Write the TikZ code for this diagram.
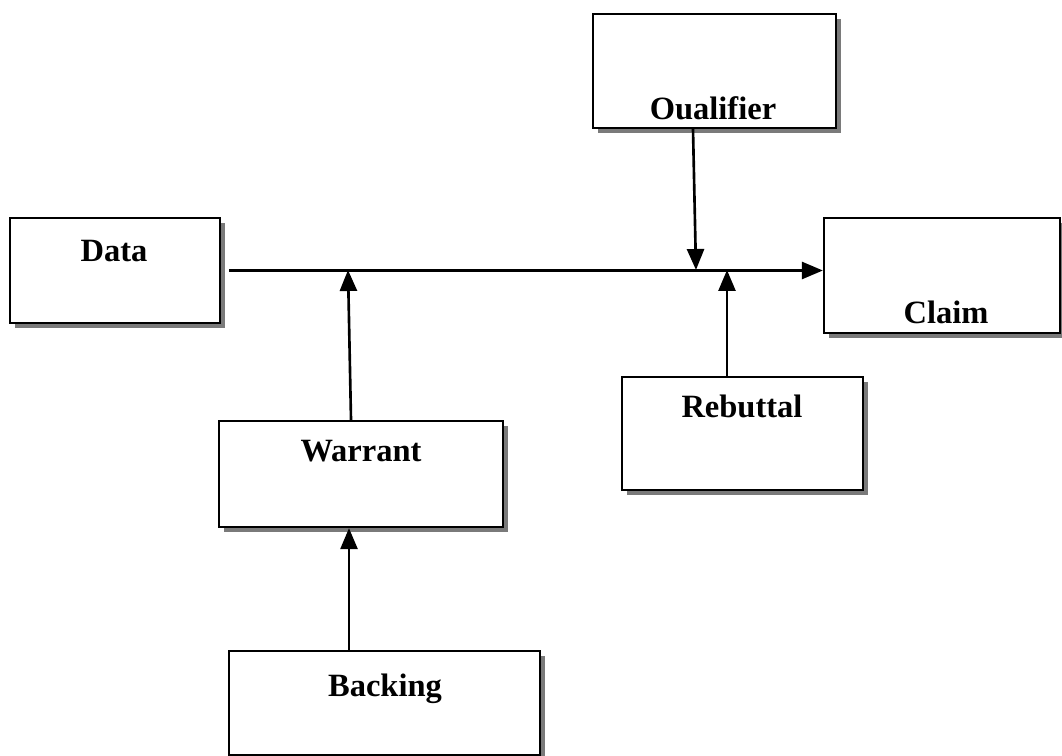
\documentclass[tikz,border=0pt]{standalone}
\usepackage{fontspec}
\setmainfont{Liberation Serif}
\usepackage{xcolor}
\usetikzlibrary{arrows.meta, positioning, shadows}
\definecolor{boxshade}{HTML}{7A7A7A}

\begin{document}
\begin{tikzpicture}[
        x=0.02cm, y=-0.02cm,
        part/.style={
            draw=black,
            fill=white,
            line width=1.3pt,
            drop shadow={opacity=1, fill=boxshade, shadow xshift=0.1cm, shadow yshift=-0.1cm}
        },
        tag/.style={font=\bfseries\fontsize{18.5}{20}\selectfont, inner sep=0pt},
        arrow/.style={-{Triangle[length=0.42cm, width=0.34cm]}, line width=1.5pt}
    ]
        \useasboundingbox (0,0) rectangle (1062,756);

        % boxes
        \node[part, minimum width=4.86cm, minimum height=2.28cm] (qualifier) at (714.5,71) {};
        \node[part, minimum width=4.20cm, minimum height=2.10cm] (data) at (115,270.5) {};
        \node[part, minimum width=4.72cm, minimum height=2.30cm] (claim) at (942,275.5) {};
        \node[part, minimum width=4.82cm, minimum height=2.26cm] (rebuttal) at (742.5,433.5) {};
        \node[part, minimum width=5.68cm, minimum height=2.12cm] (warrant) at (361,474) {};
        \node[part, minimum width=6.22cm, minimum height=2.08cm] (backing) at (384.5,703) {};

        % texts
        \node[tag] (qualifiertxt) at (713,108) {Oualifier};
        \node[tag] (datatxt) at (114,251) {Data};
        \node[tag] (claimtxt) at (946,312) {Claim};
        \node[tag] (rebuttaltxt) at (742,406) {Rebuttal};
        \node[tag] (warranttxt) at (361,451) {Warrant};
        \node[tag] (backingtxt) at (385,689) {Backing};

        % points on the main line
        \coordinate (start) at ([xshift=0.16cm]data.east);
        \coordinate (qhit) at (696,270);
        \coordinate (rhit) at (727,270);
        \coordinate (whit) at (348,270);

        \draw[arrow] (start) -- (start -| claim.west);
        \draw[arrow] ([xshift=-0.43cm]qualifier.south) -- (qhit);
        \draw[arrow] (rebuttal.north -| rhit) -- (rhit);
        \draw[arrow] ([xshift=-0.2cm]warrant.north) -- (whit);
        \draw[arrow] (backing.north -| 349,0) -- (warrant.south -| 349,0);
    \end{tikzpicture}
\end{document}
